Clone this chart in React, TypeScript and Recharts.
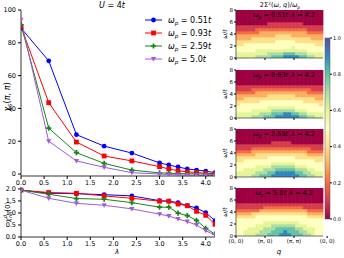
import {
  LineChart, Line, XAxis, YAxis, BarChart, Bar, Cell,
} from 'recharts';

// coupling lambda on the x axis of both left panels
const LAMBDAS = [0, 0.6, 1.2, 1.8, 2.4, 3.0, 3.2, 3.4, 3.6, 3.8, 4.0, 4.2];

// chi_S(pi, pi)
const CHI_S_051 = [89, 69, 24, 17, 12.8, 6.8, 5.5, 4.3, 3.1, 2.4, 1.8, 0.8];
const CHI_S_093 = [90, 43.5, 19.5, 11, 8, 4.5, 3.1, 2, 1.3, 0.9, 0.5, 0.2];
const CHI_S_259 = [91, 28, 13, 6.5, 2.4, 0.7, 0.5, 0.3, 0.2, 0.1, 0, -0.2];
const CHI_S_500 = [94, 20, 8, 4.1, 0.8, 0, -0.3, -0.5, -0.6, -0.7, -0.8, -0.9];

// chi^d_nn(0)
const CHI_D_051 = [1.95, 1.82, 1.8, 1.76, 1.71, 1.51, 1.49, 1.43, 1.3, 1.21, 1.01, 0.68];
const CHI_D_093 = [1.95, 1.85, 1.82, 1.71, 1.61, 1.49, 1.49, 1.37, 1.3, 1.07, 0.9, 0.53];
const CHI_D_259 = [1.95, 1.78, 1.6, 1.57, 1.43, 1.24, 1.24, 0.99, 0.89, 0.69, 0.36, 0.12];
const CHI_D_500 = [1.95, 1.61, 1.4, 1.32, 1.17, 0.95, 0.87, 0.75, 0.64, 0.5, 0.26, 0.08];

const X_TICKS = [0, 0.5, 1, 1.5, 2, 2.5, 3, 3.5, 4];
const CHI_S_TICKS = [0, 20, 40, 60, 80, 100];
const CHI_D_TICKS = [0, 0.5, 1, 1.5, 2];

// heat maps: one string per omega row (top = 8t), one char per q column, 0..a -> 0.0..1.0
const NCOLS = 22;
const OMEGA_STEP = 0.5;
const Q_TICKS = [0, 7, 14, 22];
const Q_LABELS = ['(0, 0)', '(π, 0)', '(π, π)', '(0, 0)'];
const W_TICKS = [0, 2, 4, 6, 8];
const CBAR_TICKS = [0, 0.2, 0.4, 0.6, 0.8, 1];
const CBAR = [{ v: 1 }];

const HEAT_051 = [
  '0000000000000000000000',
  '0000000000000000000000',
  '0000000000000000000000',
  '0000000000000000000000',
  '0000000011111111100000',
  '1111111111111111111111',
  '1111122222222222221111',
  '2222223333333333332222',
  '3333333333444433333333',
  '3333444444444444444333',
  '4444444444555554444444',
  '4455555555555555555544',
  '5555555555555565555555',
  '5555566666666666665555',
  '6666666677778887776666',
  '6666677778889999887766',
];
const HEAT_093 = [
  '0000000000000000000000',
  '0000000000000000000000',
  '0000000000000000000000',
  '0000000000000000000000',
  '0000000000000000000000',
  '1111111111111111111111',
  '1111222222222222222111',
  '2222233333333333332222',
  '3333333344444443333333',
  '3344444444444444444433',
  '4444445555555555544444',
  '4555555555555555555554',
  '5555555566666665555555',
  '5555666667777776665555',
  '6666667778889988776666',
  '6666777888999999887766',
];
const HEAT_259 = [
  '0000000000000000000000',
  '0000000000000000000000',
  '0000000000000000000000',
  '0000000000000000000000',
  '0000000001111100000000',
  '1111111111111111111111',
  '1111222222222222222111',
  '2222333333333333332222',
  '3333344444444444443333',
  '4444444455555554444444',
  '4455555555555555555544',
  '5555555556666665555555',
  '5555566667777776665555',
  '5566666777888887776655',
  '6666677788999998877666',
  '6666778889999999887766',
];
const HEAT_500 = [
  '0000000000000000000000',
  '0000000000000000000000',
  '0000000000000000000000',
  '0000000000000000000000',
  '0000000000000000000000',
  '1111111111111111111111',
  '1111111222222222211111',
  '2222223333333333332222',
  '3333444444444444443333',
  '4444455555555555554444',
  '5555555555555555555555',
  '5555555666666666555555',
  '5555566667777776665555',
  '5556666777888887766655',
  '5566667778889888776655',
  '5566677788899988877655',
];

const SPECTRAL = [
  '#9e0142', '#d53e4f', '#f46d43', '#fdae61', '#fee08b', '#ffffbf',
  '#e6f598', '#abdda4', '#66c2a5', '#3288bd', '#5e4fa2',
];

const FONT = 'DejaVu Sans';
const TICK = { fontSize: 6.5, fill: '#000', fontFamily: FONT };
const SMALL_TICK = { fontSize: 5.5, fill: '#000', fontFamily: FONT };

type Kind = 'o' | 's' | 'P' | 'v';

const SERIES = [
  { key: 'a', label: '0.51', color: '#0000ff', kind: 'o' as Kind, s: CHI_S_051, d: CHI_D_051 },
  { key: 'b', label: '0.93', color: '#ff0000', kind: 's' as Kind, s: CHI_S_093, d: CHI_D_093 },
  { key: 'c', label: '2.59', color: '#118811', kind: 'P' as Kind, s: CHI_S_259, d: CHI_D_259 },
  { key: 'd', label: '5.0', color: '#a25ad8', kind: 'v' as Kind, s: CHI_S_500, d: CHI_D_500 },
];

const HEATS = [
  { label: '0.51', rows: HEAT_051, top: 10 },
  { label: '0.93', rows: HEAT_093, top: 70 },
  { label: '2.59', rows: HEAT_259, top: 129 },
  { label: '5.0', rows: HEAT_500, top: 188 },
];

const topData = LAMBDAS.map((lam, i) => {
  const row: Record<string, number> = { lam };
  SERIES.forEach((s) => { row[s.key] = s.s[i]; });
  return row;
});
const bottomData = LAMBDAS.map((lam, i) => {
  const row: Record<string, number> = { lam };
  SERIES.forEach((s) => { row[s.key] = s.d[i]; });
  return row;
});

// one stacked bar per q column, one stack segment per omega bin (w0 = lowest)
const NROWS = HEAT_051.length;
const W_KEYS = Array.from({ length: NROWS }, (_, k) => `w${k}`);
const heatData = Array.from({ length: NCOLS }, (_, c) => {
  const o: Record<string, number> = { q: c };
  W_KEYS.forEach((k) => { o[k] = OMEGA_STEP; });
  return o;
});

function marker(kind: Kind, cx: number, cy: number, color: string, key?: string | number) {
  if (cx == null || cy == null) return <g key={key} />;
  if (kind === 'o') return <circle key={key} cx={cx} cy={cy} r={2.4} fill={color} />;
  if (kind === 's') return <rect key={key} x={cx - 2.4} y={cy - 2.4} width={4.8} height={4.8} fill={color} />;
  if (kind === 'P') {
    const a = 2.6, b = 0.85;
    const d = `M${cx - b},${cy - a}H${cx + b}V${cy - b}H${cx + a}V${cy + b}H${cx + b}V${cy + a}H${cx - b}V${cy + b}H${cx - a}V${cy - b}H${cx - b}Z`;
    return <path key={key} d={d} fill={color} />;
  }
  return <path key={key} d={`M${cx - 2.6},${cy - 2}L${cx + 2.6},${cy - 2}L${cx},${cy + 2.6}Z`} fill={color} />;
}

const fmt1 = (v: number) => v.toFixed(1);

function LambdaPanel({ data, domain, ticks, yFmt, top, height, marginTop, marginBottom }: any) {
  return (
    <div style={{ position: 'absolute', left: 0, top }}>
      <LineChart width={225} height={height} data={data}
        margin={{ top: marginTop, right: 10, bottom: marginBottom, left: 0 }}>
        <XAxis dataKey="lam" type="number" domain={[0, 4.2]} ticks={X_TICKS} interval={0}
          tickFormatter={fmt1} tick={TICK} height={14} tickSize={3} tickMargin={1}
          axisLine={{ stroke: '#000', strokeWidth: 0.8 }} tickLine={{ stroke: '#000' }}
          allowDataOverflow />
        <XAxis xAxisId="top" orientation="top" type="number" domain={[0, 1]} tick={false}
          tickLine={false} height={0} axisLine={{ stroke: '#000', strokeWidth: 0.8 }} />
        <YAxis type="number" domain={domain} ticks={ticks} interval={0} tickFormatter={yFmt}
          tick={TICK} width={21} tickSize={3} tickMargin={2} allowDataOverflow
          axisLine={{ stroke: '#000', strokeWidth: 0.8 }} tickLine={{ stroke: '#000' }} />
        <YAxis yAxisId="right" orientation="right" type="number" domain={[0, 1]} tick={false}
          tickLine={false} width={0} axisLine={{ stroke: '#000', strokeWidth: 0.8 }} />
        {SERIES.map((s) => (
          <Line key={s.key} dataKey={s.key} stroke={s.color} strokeWidth={1}
            isAnimationActive={false} activeDot={false}
            dot={(p: any) => marker(s.kind, p.cx, p.cy, s.color, `${s.key}-${p.index}`)} />
        ))}
      </LineChart>
    </div>
  );
}

function HeatPanel({ rows, top, last }: { rows: string[]; top: number; last: boolean }) {
  const xh = last ? 12 : 3;
  const pad = 4;
  return (
    <div style={{ position: 'absolute', left: 220, top: top - pad }}>
      <BarChart width={124} height={48 + xh + pad} data={heatData} barCategoryGap={0} barGap={0}
        margin={{ top: pad, right: 21, bottom: 0, left: 0 }}>
        <XAxis xAxisId="num" type="number" domain={[0, NCOLS]} ticks={Q_TICKS} interval={0}
          allowDataOverflow
          tickFormatter={(v: number) => (last ? Q_LABELS[Q_TICKS.indexOf(v)] : '')}
          tick={SMALL_TICK} height={xh} tickSize={2} tickMargin={1}
          axisLine={{ stroke: '#333', strokeWidth: 0.7 }} tickLine={{ stroke: '#000' }} />
        <XAxis xAxisId="cat" dataKey="q" hide height={0} />
        <XAxis xAxisId="top" orientation="top" type="number" domain={[0, 1]} tick={false}
          tickLine={false} height={0} axisLine={{ stroke: '#333', strokeWidth: 0.7 }} />
        <YAxis type="number" domain={[0, 8]} ticks={W_TICKS} interval={0} tick={SMALL_TICK}
          width={16} tickSize={2} tickMargin={1} allowDataOverflow
          axisLine={{ stroke: '#333', strokeWidth: 0.7 }} tickLine={{ stroke: '#000' }} />
        <YAxis yAxisId="right" orientation="right" type="number" domain={[0, 1]} tick={false}
          tickLine={false} width={0} axisLine={{ stroke: '#333', strokeWidth: 0.7 }} />
        {W_KEYS.map((k, idx) => {
          const row = rows[rows.length - 1 - idx];
          return (
            <Bar key={k} dataKey={k} xAxisId="cat" stackId="h" isAnimationActive={false}>
              {heatData.map((_, c) => {
                const color = SPECTRAL[parseInt(row[c], 16)];
                return <Cell key={c} fill={color} stroke={color} strokeWidth={0.6} />;
              })}
            </Bar>
          );
        })}
      </BarChart>
    </div>
  );
}

function OmegaP({ value }: { value: string }) {
  return (
    <>
      <tspan fontStyle="italic">ω</tspan>
      <tspan fontSize="70%" dy={1.5} fontStyle="italic">p</tspan>
      <tspan dy={-1.5}>{` = ${value}`}</tspan>
      <tspan fontStyle="italic">t</tspan>
    </>
  );
}

export default function App() {
  return (
    <div style={{ position: 'absolute', left: 0, top: 0, width: 344, height: 258, background: '#fff', fontFamily: FONT }}>
      <LambdaPanel data={topData} domain={[-1.2, 100]} ticks={CHI_S_TICKS} yFmt={(v: number) => `${v}`}
        top={0} height={190} marginTop={10} marginBottom={0} />
      <LambdaPanel data={bottomData} domain={[0, 2.08]} ticks={CHI_D_TICKS} yFmt={fmt1}
        top={180} height={78} marginTop={7} marginBottom={7} />

      {HEATS.map((h, i) => (
        <HeatPanel key={h.label} rows={h.rows} top={h.top} last={i === HEATS.length - 1} />
      ))}

      <div style={{ position: 'absolute', left: 305, top: 34 }}>
        <BarChart width={39} height={189} data={CBAR} margin={{ top: 4, right: 0, bottom: 4, left: 20 }}
          barCategoryGap={0}>
          <defs>
            <linearGradient id="spectral" x1="0" y1="1" x2="0" y2="0">
              {SPECTRAL.map((c, i) => (
                <stop key={c} offset={`${i * 10}%`} stopColor={c} />
              ))}
            </linearGradient>
          </defs>
          <XAxis dataKey="v" hide height={0} />
          <YAxis orientation="right" type="number" domain={[0, 1]} ticks={CBAR_TICKS} interval={0}
            tickFormatter={fmt1} tick={{ ...SMALL_TICK, fontSize: 5 }} width={14} tickSize={2} tickMargin={1}
            axisLine={false} tickLine={{ stroke: '#000' }} />
          <Bar dataKey="v" fill="url(#spectral)" stroke="#555" strokeWidth={0.5} isAnimationActive={false} />
        </BarChart>
      </div>

      <svg width={344} height={258} style={{ position: 'absolute', left: 0, top: 0, pointerEvents: 'none' }}
        fontFamily={FONT}>
        <text x={112} y={8} fontSize={8} textAnchor="middle">
          <tspan fontStyle="italic">U</tspan> = 4<tspan fontStyle="italic">t</tspan>
        </text>
        <text transform="translate(10,97) rotate(-90)" fontSize={8} textAnchor="middle">
          <tspan fontStyle="italic">χ</tspan>
          <tspan fontSize={5.5} dy={2} fontStyle="italic">S</tspan>
          <tspan dy={-2}>(</tspan><tspan fontStyle="italic">π</tspan>, <tspan fontStyle="italic">π</tspan>)
        </text>
        <text transform="translate(10,212) rotate(-90)" fontSize={7} textAnchor="middle">
          <tspan fontStyle="italic">χ</tspan>
          <tspan fontSize={5} dy={-3} fontStyle="italic">d</tspan>
          <tspan fontSize={5} dx={-3} dy={5} fontStyle="italic">nn</tspan>
          <tspan dy={-2}>(0)</tspan>
        </text>
        <text x={117} y={254} fontSize={7} textAnchor="middle" fontStyle="italic">λ</text>

        {SERIES.map((s, i) => {
          const y = 20 + i * 13;
          return (
            <g key={s.key}>
              <line x1={145} x2={162} y1={y} y2={y} stroke={s.color} strokeWidth={1} />
              {marker(s.kind, 153.5, y, s.color)}
              <text x={168} y={y + 3} fontSize={8}><OmegaP value={s.label} /></text>
            </g>
          );
        })}

        <text x={280} y={7} fontSize={6.5} textAnchor="middle">
          2Σ<tspan fontSize={4.5} dy={-2.5}>2</tspan>
          <tspan dy={2.5}>(</tspan><tspan fontStyle="italic">ω</tspan>, <tspan fontStyle="italic">q</tspan>)/<tspan fontStyle="italic">ω</tspan>
          <tspan fontSize={4.5} dy={1.5} fontStyle="italic">p</tspan>
        </text>
        {HEATS.map((h) => (
          <g key={h.label}>
            <text x={284} y={h.top + 7} fontSize={6.5} textAnchor="middle">
              <OmegaP value={h.label} />
              <tspan dx={3} fontStyle="italic">λ</tspan><tspan> = 4.2</tspan>
            </text>
            <text transform={`translate(227,${h.top + 24}) rotate(-90)`} fontSize={6} textAnchor="middle">
              <tspan fontStyle="italic">ω</tspan>/<tspan fontStyle="italic">t</tspan>
            </text>
          </g>
        ))}
        <text x={279} y={254} fontSize={7} textAnchor="middle" fontStyle="italic">q</text>
      </svg>
    </div>
  );
}
